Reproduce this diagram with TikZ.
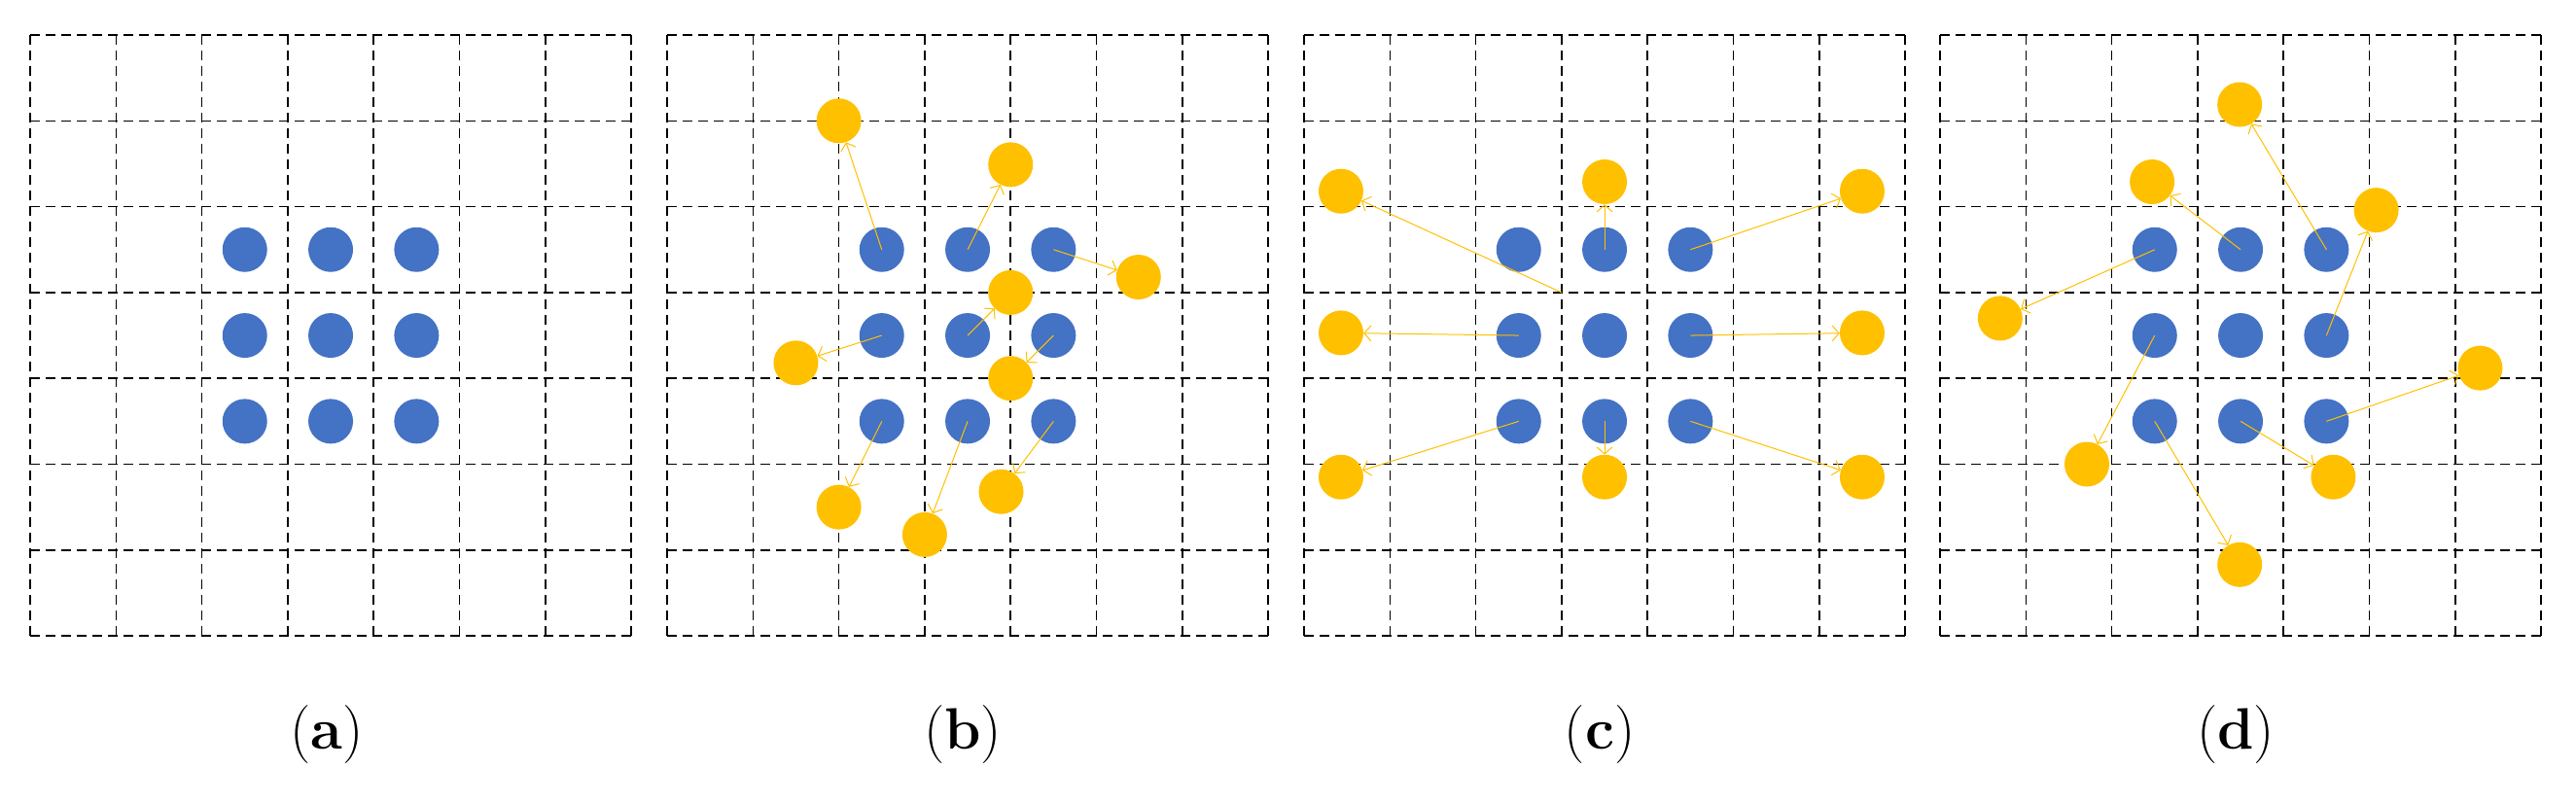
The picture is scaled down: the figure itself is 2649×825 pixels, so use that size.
\documentclass[tikz,border=0pt]{standalone}
\usetikzlibrary{arrows.meta}
\definecolor{bl}{HTML}{4472C4}
\definecolor{yl}{HTML}{FFC000}
\tikzset{
  grid/.style={line width=1.6pt,dash pattern=on 10pt off 6pt,black},
  bdot/.style={circle,fill=bl,inner sep=0,minimum size=46pt},
  ydot/.style={circle,fill=yl,inner sep=0,minimum size=46pt},
  mv/.style={draw=yl,line width=1pt,-{Straight Barb[length=7pt,width=16pt,line width=1pt]}},
  lab/.style={font=\fontsize{60}{68}\selectfont}
}
\newcommand{\panelgrid}{\foreach \k in {0,...,7}{\draw[grid] (\k,0) -- (\k,7); \draw[grid] (0,\k) -- (7,\k);}
  \foreach \i in {0,1,2}{\foreach \j in {0,1,2}{\node[bdot] (b\i\j) at (2.5+\i,2.5+\j) {};}}}
\begin{document}
\begin{tikzpicture}[x=1pt,y=-1pt]
\useasboundingbox (0,0) rectangle (2649,825);
% (a)
\begin{scope}[xshift=31pt,yshift=-36pt,x=88.3pt,y=-88.3pt]
\panelgrid
\end{scope}
% (b)
\begin{scope}[xshift=686pt,yshift=-36pt,x=88.3pt,y=-88.3pt]
\panelgrid
\node[ydot] (y1) at (2.0,1.0) {};
\node[ydot] (y2) at (4.0,1.51) {};
\node[ydot] (y3) at (5.49,2.82) {};
\node[ydot] (y4) at (4.0,3.0) {};
\node[ydot] (y5) at (1.5,3.82) {};
\node[ydot] (y6) at (4.0,4.0) {};
\node[ydot] (y7) at (2.0,5.5) {};
\node[ydot] (y8) at (3.0,5.82) {};
\node[ydot] (y9) at (3.89,5.32) {};
\draw[mv] (b00.center) -- (y1);
\draw[mv] (b10.center) -- (y2);
\draw[mv] (b20.center) -- (y3);
\draw[mv] (b11.center) -- (y4);
\draw[mv] (b01.center) -- (y5);
\draw[mv] (b21.center) -- (y6);
\draw[mv] (b02.center) -- (y7);
\draw[mv] (b12.center) -- (y8);
\draw[mv] (b22.center) -- (y9);
\end{scope}
% (c)
\begin{scope}[xshift=1341pt,yshift=-36pt,x=88.3pt,y=-88.3pt]
\panelgrid
\coordinate (c0) at (3,3);
\node[ydot] (y1) at (0.43,1.82) {};
\node[ydot] (y2) at (3.5,1.71) {};
\node[ydot] (y3) at (6.5,1.82) {};
\node[ydot] (y4) at (0.43,3.47) {};
\node[ydot] (y5) at (6.5,3.47) {};
\node[ydot] (y6) at (0.43,5.15) {};
\node[ydot] (y7) at (3.5,5.15) {};
\node[ydot] (y8) at (6.5,5.15) {};
\draw[mv] (c0) -- (y1);
\draw[mv] (b10.center) -- (y2);
\draw[mv] (b20.center) -- (y3);
\draw[mv] (b01.center) -- (y4);
\draw[mv] (b21.center) -- (y5);
\draw[mv] (b02.center) -- (y6);
\draw[mv] (b12.center) -- (y7);
\draw[mv] (b22.center) -- (y8);
\end{scope}
% (d)
\begin{scope}[xshift=1995pt,yshift=-36pt,x=88.3pt,y=-88.3pt]
\panelgrid
\node[ydot] (y1) at (3.49,0.81) {};
\node[ydot] (y2) at (2.47,1.71) {};
\node[ydot] (y3) at (5.08,2.04) {};
\node[ydot] (y4) at (0.70,3.30) {};
\node[ydot] (y5) at (6.29,3.88) {};
\node[ydot] (y6) at (1.71,5.0) {};
\node[ydot] (y7) at (4.58,5.15) {};
\node[ydot] (y8) at (3.49,6.17) {};
\draw[mv] (b20.center) -- (y1);
\draw[mv] (b10.center) -- (y2);
\draw[mv] (b21.center) -- (y3);
\draw[mv] (b00.center) -- (y4);
\draw[mv] (b22.center) -- (y5);
\draw[mv] (b01.center) -- (y6);
\draw[mv] (b12.center) -- (y7);
\draw[mv] (b02.center) -- (y8);
\end{scope}
\node[lab] (la) at (336,756) {(\textbf{a})};
\node[lab] (lb) at (990,756) {(\textbf{b})};
\node[lab] (lc) at (1645,756) {(\textbf{c})};
\node[lab] (ld) at (2299,756) {(\textbf{d})};
\end{tikzpicture}
\end{document}
